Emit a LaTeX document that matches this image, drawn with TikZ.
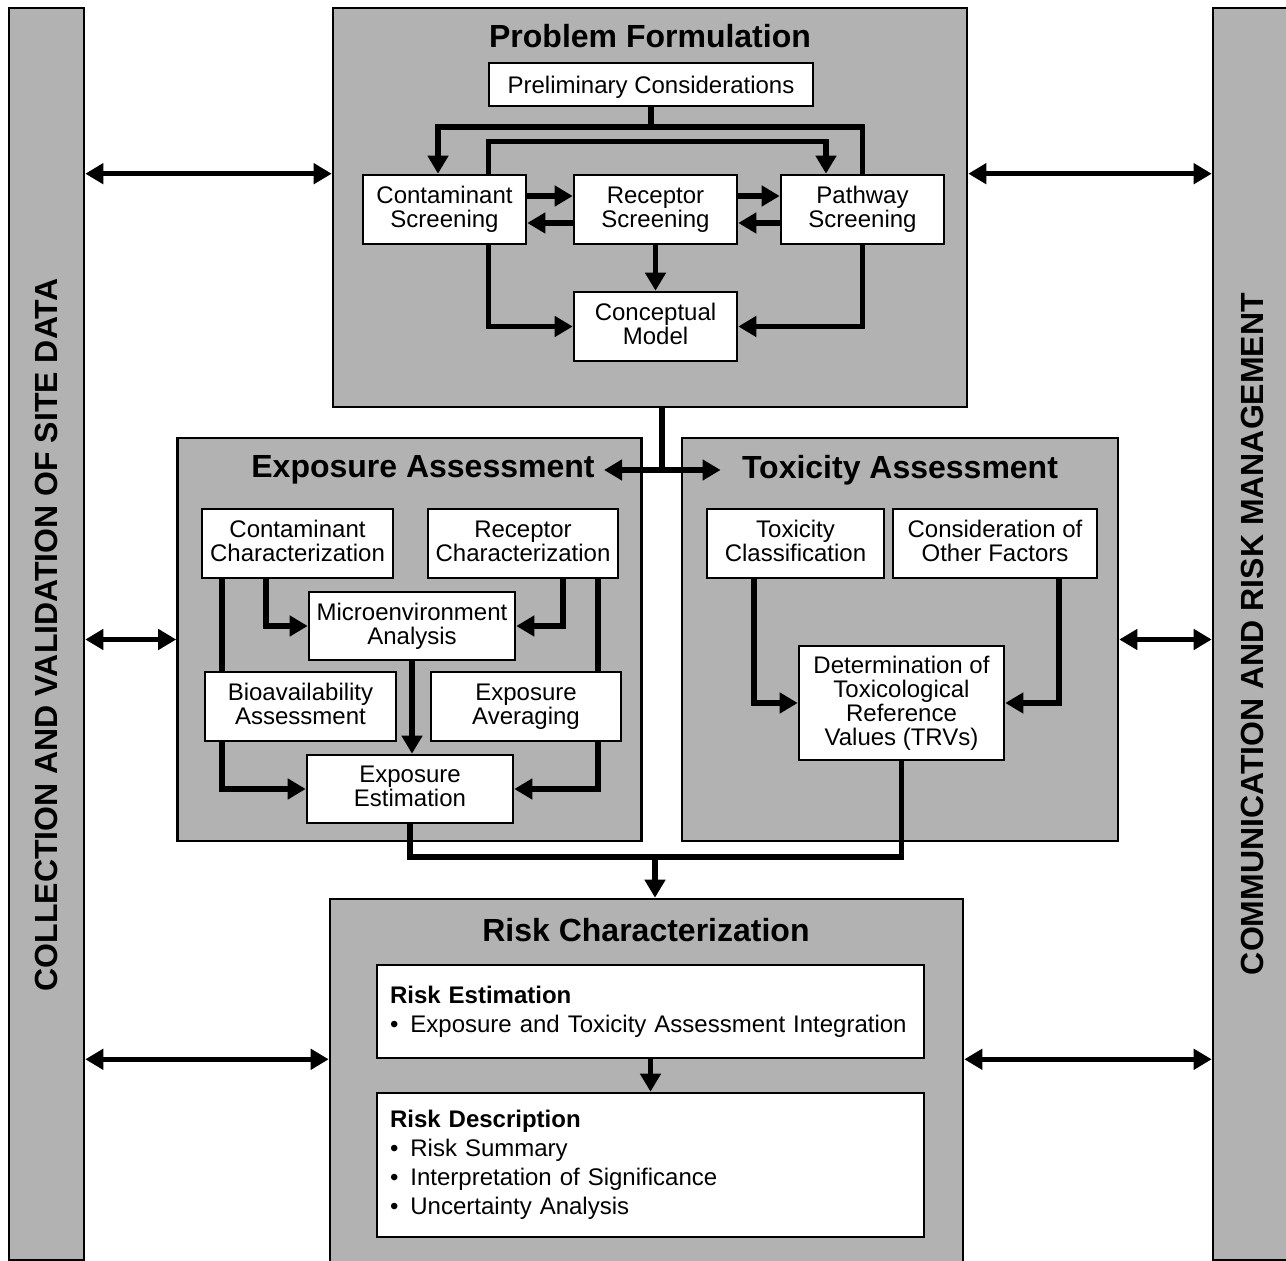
\documentclass[tikz,border=0pt]{standalone}
\usepackage{fontspec}
\setmainfont{Liberation Sans}
\usetikzlibrary{arrows.meta}
\newcommand{\bul}{\textbullet\hspace{6pt}}
\tikzset{
  panel/.style={draw, fill=black!30, line width=1.3pt},
  box/.style={draw, fill=white, line width=1.3pt, align=center, inner sep=0pt, font=\fontsize{12}{12}\selectfont,
    execute at begin node={\rule{0pt}{11.2pt}}, execute at end node={\rule[-2.6pt]{0pt}{2.6pt}}},
  listbox/.style={draw, fill=white, line width=1.3pt, align=left, inner xsep=6.5pt, inner ysep=0pt, text width=260.5pt, minimum width=273.5pt, font=\fontsize{12}{14.5}\selectfont},
  title/.style={font=\fontsize{16}{16}\selectfont\bfseries, inner sep=0pt},
  flow/.style={line width=2.6pt, -{Triangle[length=9pt,width=10pt]}},
  link/.style={line width=2.6pt},
  both/.style={line width=2.6pt, {Triangle[length=9pt,width=10pt]}-{Triangle[length=9pt,width=10pt]}},
}
\begin{document}
\begin{tikzpicture}[x=0.5pt, y=-0.5pt]
    \clip (0,0) rectangle (1286,1261);
    \node[panel, minimum width=37.5pt, minimum height=626pt] (lbar) at (46.5,634) {};
    \node[panel, minimum width=43.5pt, minimum height=626pt] (rbar) at (1256.5,634) {};
    \node[title, rotate=90] (lbart) at (46.5,635) {COLLECTION AND VALIDATION OF SITE DATA};
    \node[title, rotate=90] (rbart) at (1252,634) {COMMUNICATION AND RISK MANAGEMENT};
    \node[panel, minimum width=317pt, minimum height=199.5pt] (pfp) at (650,207.5) {};
    \node[panel, minimum width=232pt, minimum height=201.5pt] (eap) at (409.5,639.5) {};
    \node[panel, minimum width=218pt, minimum height=201.5pt] (tap) at (900,639.5) {};
    \node[panel, minimum width=316.5pt, minimum height=190.5pt] (rcp) at (646.5,1089.5) {};
    \node[title] (pft) at (650,36) {Problem Formulation};
    \node[title] (eat) at (423,470) {Exposure Assessment};
    \node[title] (tat) at (900,470) {Toxicity Assessment};
    \node[title] (rct) at (646,930) {Risk Characterization};
    \node[box, minimum width=162pt, minimum height=21.5pt] (prelim) at (651,84.5) {Preliminary Considerations};
    \node[box, minimum width=81.5pt, minimum height=34.5pt] (cs) at (444.5,209.5) {Contaminant\\Screening};
    \node[box, minimum width=81.5pt, minimum height=34.5pt] (rs) at (655.5,209.5) {Receptor\\Screening};
    \node[box, minimum width=81.5pt, minimum height=34.5pt] (ps) at (862.5,209.5) {Pathway\\Screening};
    \node[box, minimum width=81.5pt, minimum height=34.5pt] (cm) at (655.5,326.5) {Conceptual\\Model};
    \node[box, minimum width=95.5pt, minimum height=34.5pt] (cc) at (297.5,543.5) {Contaminant\\Characterization};
    \node[box, minimum width=95pt, minimum height=34.5pt] (rc) at (523,543.5) {Receptor\\Characterization};
    \node[box, minimum width=103pt, minimum height=34pt] (ma) at (412,626) {Microenvironment\\Analysis};
    \node[box, minimum width=95.5pt, minimum height=34.5pt] (ba) at (300.5,706.5) {Bioavailability\\Assessment};
    \node[box, minimum width=95pt, minimum height=34.5pt] (ea) at (526,706.5) {Exposure\\Averaging};
    \node[box, minimum width=103pt, minimum height=34pt] (ee) at (410,789) {Exposure\\Estimation};
    \node[box, minimum width=88.5pt, minimum height=34.5pt] (tc) at (795.5,543.5) {Toxicity\\Classification};
    \node[box, minimum width=102pt, minimum height=34.5pt] (co) at (995,543.5) {Consideration of\\Other Factors};
    \node[box, minimum width=102.5pt, minimum height=57pt] (trv) at (901.5,703) {Determination of\\Toxicological\\Reference\\Values (TRVs)};
    \node[listbox, minimum height=46.5pt] (re) at (650.5,1011.5) {\textbf{Risk Estimation}\\\bul Exposure and Toxicity Assessment Integration};
    \node[listbox, minimum height=72pt] (rd) at (650.5,1165) {\textbf{Risk Description}\\\bul Risk Summary\\\bul Interpretation of Significance\\\bul Uncertainty Analysis};
    \coordinate (fork) at (651,127);
    \coordinate (split) at (662,470);
    \coordinate (join) at (655,857);
    \draw[link] (prelim.south) -- (fork);
    \draw[flow] (fork) -| ([xshift=-3.25pt]cs.north);
    \draw[link] (fork) -| (ps.north);
    \draw[flow] ([xshift=22pt]cs.north) -- ++(0,-32) -| ([xshift=-18.25pt]ps.north);
    \draw[flow] ([yshift=6.75pt]cs.east) -- ([yshift=6.75pt]rs.west);
    \draw[flow] ([yshift=-6.75pt]rs.west) -- ([yshift=-6.75pt]cs.east);
    \draw[flow] ([yshift=6.75pt]rs.east) -- ([yshift=6.75pt]ps.west);
    \draw[flow] ([yshift=-6.75pt]ps.west) -- ([yshift=-6.75pt]rs.east);
    \draw[flow] (rs) -- (cm);
    \draw[flow] ([xshift=22pt]cs.south) |- (cm.west);
    \draw[flow] (ps.south) |- (cm.east);
    \draw[link] (pfp.south -| split) -- (split);
    \draw[both, shorten <=4.5pt, shorten >=10.5pt] (eat.east) -- (tat.west);
    \draw[link] ([xshift=-37.75pt]cc.south) -- ([xshift=-39.25pt]ba.north);
    \draw[flow] ([xshift=-15.75pt]cc.south) |- (ma.west);
    \draw[flow] ([xshift=20pt]rc.south) |- (ma.east);
    \draw[link] ([xshift=37.5pt]rc.south) -- ([xshift=36pt]ea.north);
    \draw[flow] (ma.south) -- (ma.south |- ee.north);
    \draw[flow] ([xshift=-39.25pt]ba.south) |- (ee.west);
    \draw[flow] ([xshift=36pt]ea.south) |- (ee.east);
    \draw[flow] ([xshift=-20.75pt]tc.south) |- (trv.west);
    \draw[flow] ([xshift=32pt]co.south) |- (trv.east);
    \draw[link] (ee.south) -- (ee.south |- join) -- (trv.south |- join) -- (trv.south);
    \draw[flow] (join) -- (rcp.north -| join);
    \draw[flow] (re) -- (rd);
    \draw[both] (lbar.east |- cs.north) -- (pfp.west |- cs.north);
    \draw[both] (pfp.east |- ps.north) -- (rbar.west |- ps.north);
    \draw[both] (lbar.east |- eap.west) -- (eap.west);
    \draw[both] (tap.east) -- (rbar.west |- tap.east);
    \draw[both] (lbar.east |- re.south) -- (rcp.west |- re.south);
    \draw[both] (rcp.east |- re.south) -- (rbar.west |- re.south);
\end{tikzpicture}
\end{document}
